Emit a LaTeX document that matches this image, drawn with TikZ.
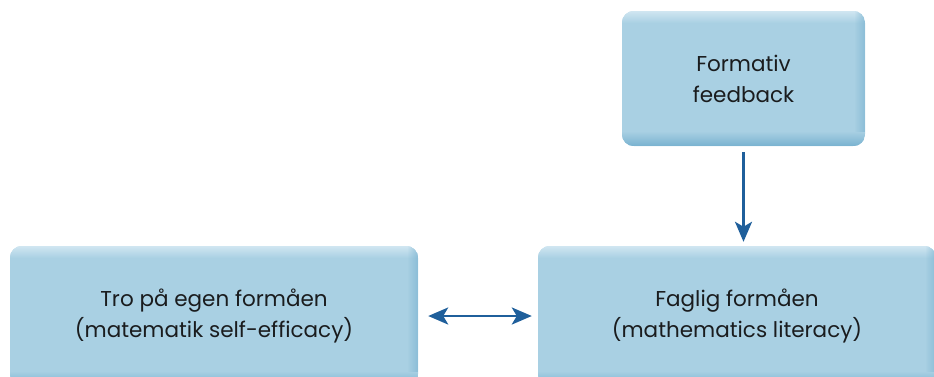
\documentclass[tikz,border=0pt]{standalone}
\usepackage{fontspec}
\setmainfont{Poppins}
\usetikzlibrary{arrows.meta}

\definecolor{boxbot}{RGB}{124,180,209}
\definecolor{boxmid}{RGB}{169,208,227}
\definecolor{boxtop}{RGB}{208,230,241}
\definecolor{arrowblue}{RGB}{31,95,155}
\definecolor{inktext}{RGB}{26,28,30}

\tikzset{
  panel/.style={rounded corners=12pt, fill=boxmid, draw=none, inner sep=0pt},
  label/.style={align=center, text=inktext, font=\fontsize{21.5}{31}\selectfont},
  link/.style={draw=arrowblue, line width=2.8pt,
    -{Stealth[length=20pt,width=17pt,inset=5pt]}},
  dlink/.style={link, {Stealth[length=20pt,width=17pt,inset=5pt]}-{Stealth[length=20pt,width=17pt,inset=5pt]}},
}

% soft rims of a panel: light top, darker right and bottom
\newcommand{\panelrims}[1]{%
  \begin{scope}
    \clip[rounded corners=12pt] (#1.north west) rectangle (#1.south east);
    \foreach \i in {0,...,11}{
      \pgfmathsetmacro{\m}{100-\i*100/12}
      \fill[boxtop!\m!boxmid] ([yshift=-\i pt]#1.north west) rectangle ([yshift=-\i pt-1.05pt]#1.north east);
    }
    \foreach \i in {0,...,9}{
      \pgfmathsetmacro{\o}{0.6*(1-\i/10)}
      \fill[boxbot, fill opacity=\o] ([xshift=-\i pt]#1.north east) rectangle ([xshift=-\i pt-1.05pt]#1.south east);
    }
    \foreach \i in {0,...,13}{
      \pgfmathsetmacro{\m}{100-\i*100/14}
      \fill[boxbot!\m!boxmid] ([yshift=\i pt]#1.south west) rectangle ([yshift=\i pt+1.05pt]#1.south east);
    }
  \end{scope}}

\begin{document}
\begin{tikzpicture}[x=1pt,y=-1pt]
  \useasboundingbox (0,0) rectangle (934,376);

  % panels
  \node[panel, minimum width=243pt, minimum height=135pt] (fb) at (743.5,78.5) {};
  \node[panel, minimum width=408pt, minimum height=140pt] (tro) at (214,316) {};
  \node[panel, minimum width=398pt, minimum height=140pt] (fag) at (737,316) {};
  \panelrims{fb}
  \panelrims{tro}
  \panelrims{fag}

  % labels
  \node[label] (fbt) at (fb.center) {Formativ\\feedback};
  \node[label] (trot) at (tro.center) {Tro på egen formåen\\(matematik self-efficacy)};
  \node[label] (fagt) at (fag.center) {Faglig formåen\\(mathematics literacy)};

  % connector end points
  \coordinate (a1) at ([yshift=-6pt]fb.south);
  \coordinate (a2) at (fb.south |- fag.north);
  \coordinate (a2s) at ([yshift=4pt]a2);
  \coordinate (b1) at ([xshift=10pt]tro.east);
  \coordinate (b2) at (fag.west |- tro.east);
  \coordinate (b2s) at ([xshift=-6pt]b2);

  % connectors
  \draw[link] (a1) -- (a2s);
  \draw[dlink] (b1) -- (b2s);
\end{tikzpicture}
\end{document}
